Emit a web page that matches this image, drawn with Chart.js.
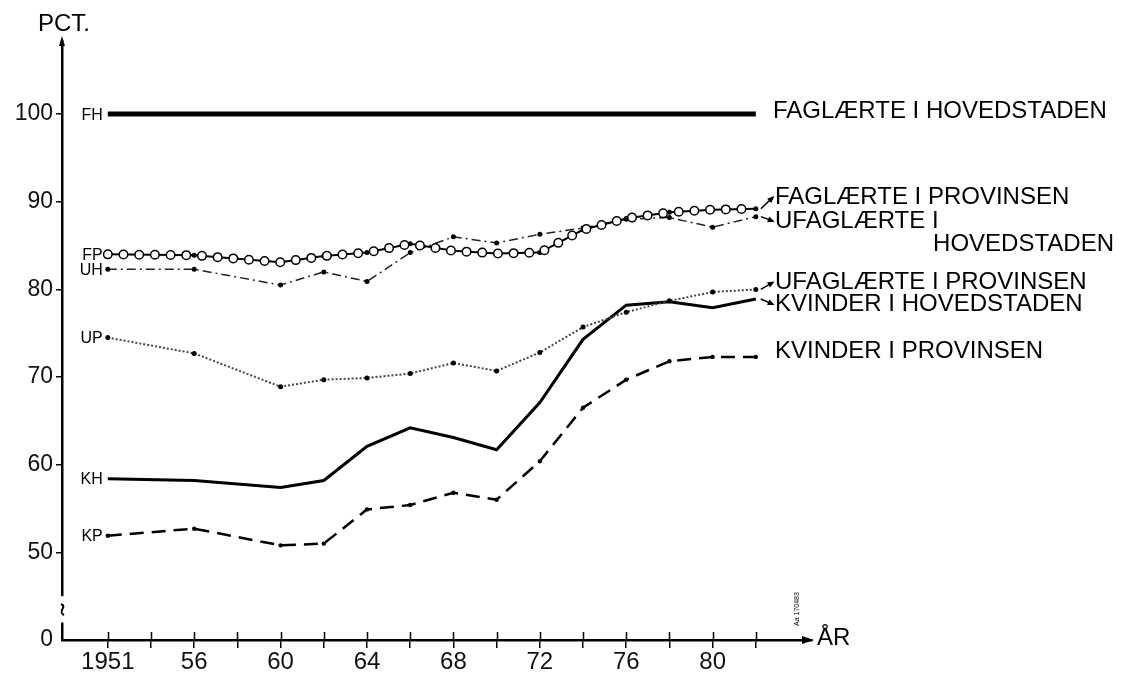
<!DOCTYPE html>
<html>
<head>
<meta charset="utf-8">
<script src="https://cdn.jsdelivr.net/npm/chart.js@4"></script>
<style>
  html,body{margin:0;padding:0;background:#fff;}
  #wrap{width:1126px;height:675px;position:relative;}
</style>
</head>
<body>
<div id="wrap"><canvas id="c"></canvas></div>
<script>
// x slots on the (uneven) year axis: 1951, 56, 60, 62 ... 82
const slots = [0, 2, 4, 5, 6, 7, 8, 9, 10, 11, 12, 13, 14, 15];
const years = ['1951','1956','1960','1962','1964','1966','1968','1970','1972','1974','1976','1978','1980','1982'];
const tickLabels = ['1951','','56','','60','','64','','68','','72','','76','','80',''];
const yTicks = [40, 50, 60, 70, 80, 90, 100];
const yTickLabels = ['0', '50', '60', '70', '80', '90', '100'];

// series (pct. of skilled workers in Copenhagen)
const fh = [100,100,100,100,100,100,100,100,100,100,100,100,100,100];
const fp = [84.0,83.9,83.1,83.8,84.2,85.2,84.4,84.1,84.2,86.8,88.1,88.8,89.1,89.2];
const uh = [82.3,82.3,80.5,82.0,80.9,84.2,86.0,85.3,86.3,87.0,88.0,88.2,87.1,88.3];
const up = [74.5,72.7,68.9,69.7,69.9,70.4,71.6,70.7,72.8,75.7,77.4,78.7,79.7,80.0];
const kh = [58.4,58.2,57.4,58.2,62.1,64.2,63.1,61.7,67.1,74.3,78.2,78.6,77.9,78.9];
const kp = [51.9,52.7,50.8,51.0,54.9,55.4,56.8,56.0,60.4,66.5,69.7,71.8,72.3,72.3];

const shortNames = ['FH','FP','UH','UP','KH','KP'];
const longNames = ['FAGLÆRTE I HOVEDSTADEN','FAGLÆRTE I PROVINSEN','UFAGLÆRTE I|HOVEDSTADEN','UFAGLÆRTE I PROVINSEN','KVINDER I HOVEDSTADEN','KVINDER I PROVINSEN'];

const pts = arr => arr.map((v, i) => ({x: slots[i], y: v}));
const FONT = '"Liberation Sans", Arial, Helvetica, sans-serif';

const deco = {
  id: 'deco',
  afterDraw(chart) {
    const {ctx, scales: {x, y}, chartArea: ca} = chart;
    ctx.save();
    ctx.strokeStyle = '#000'; ctx.fillStyle = '#000';
    // upper halves of x tick marks
    ctx.lineWidth = 1.5;
    for (let i = 0; i < tickLabels.length; i++) {
      const px = Math.round(x.getPixelForValue(i)) + 0.5;
      ctx.beginPath(); ctx.moveTo(px, ca.bottom); ctx.lineTo(px, ca.bottom - 8); ctx.stroke();
    }
    // y axis arrow
    ctx.lineWidth = 2.5;
    ctx.beginPath(); ctx.moveTo(ca.left, ca.top + 2); ctx.lineTo(ca.left, ca.top - 4); ctx.stroke();
    ctx.beginPath(); ctx.moveTo(ca.left, ca.top - 8); ctx.lineTo(ca.left - 3, ca.top + 2); ctx.lineTo(ca.left + 3, ca.top + 2); ctx.closePath(); ctx.fill();
    // x axis arrow
    ctx.beginPath(); ctx.moveTo(ca.right + 2, ca.bottom); ctx.lineTo(ca.right - 10, ca.bottom - 4); ctx.lineTo(ca.right - 10, ca.bottom + 4); ctx.closePath(); ctx.fill();
    // axis break
    const b1 = y.getPixelForValue(45.0), b2 = y.getPixelForValue(42.0);
    ctx.fillStyle = '#fff'; ctx.fillRect(ca.left - 4, b1, 8, b2 - b1);
    ctx.fillStyle = '#000';
    ctx.lineWidth = 2;
    ctx.beginPath();
    ctx.moveTo(ca.left - 1, b1 + 8);
    ctx.bezierCurveTo(ca.left + 6, b1 + 10, ca.left - 5, b1 + 15, ca.left + 2, b1 + 19);
    ctx.stroke();
    // axis titles
    ctx.font = '24px ' + FONT; ctx.textBaseline = 'middle'; ctx.textAlign = 'left';
    ctx.fillText('PCT.', 38, 24);
    ctx.fillText('ÅR', 817, ca.bottom - 2);
    // left short labels
    ctx.font = '16px ' + FONT; ctx.textAlign = 'right';
    const firsts = [fh[0], fp[0], uh[0], up[0], kh[0], kp[0]];
    const x0 = x.getPixelForValue(slots[0]);
    shortNames.forEach((n, i) => ctx.fillText(n, x0 - 5, y.getPixelForValue(firsts[i]) + 1));
    // right long labels
    ctx.font = '24px ' + FONT; ctx.textAlign = 'left';
    const lx = 775;
    const lab = [[100.3, 773], [90.5, lx], [87.8, lx], [80.8, lx], [78.3, lx], [72.9, lx]];
    longNames.forEach((n, i) => {
      const parts = n.split('|');
      const py = y.getPixelForValue(lab[i][0]);
      ctx.fillText(parts[0], lab[i][1], py);
      if (parts[1]) { ctx.textAlign = 'right'; ctx.fillText(parts[1], 1114, py + 23); ctx.textAlign = 'left'; }
    });
    // leaders
    const xe = x.getPixelForValue(slots[slots.length - 1]);
    const leader = (v0, v1) => {
      const ya = y.getPixelForValue(v0), yb = y.getPixelForValue(v1);
      ctx.lineWidth = 1.5;
      ctx.beginPath(); ctx.moveTo(xe + 5, ya); ctx.lineTo(xe + 17, yb); ctx.stroke();
      const ang = Math.atan2(yb - ya, 12);
      ctx.save(); ctx.translate(xe + 17, yb); ctx.rotate(ang);
      ctx.beginPath(); ctx.moveTo(2, 0); ctx.lineTo(-5, -3); ctx.lineTo(-5, 3); ctx.closePath(); ctx.fill();
      ctx.restore();
    };
    leader(fp[fp.length - 1], 90.5);
    leader(uh[uh.length - 1], 87.8);
    leader(up[up.length - 1], 80.8);
    leader(kh[kh.length - 1], 78.3);
    // archive code
    ctx.save(); ctx.translate(797, 626); ctx.rotate(-Math.PI / 2);
    ctx.font = '7px ' + FONT; ctx.textAlign = 'left'; ctx.fillText('Aa 170483', 0, 0);
    ctx.restore();
    ctx.restore();
  }
};

new Chart(document.getElementById('c'), {
  type: 'line',
  data: {
    datasets: [
      {label: 'FH', data: pts(fh), borderColor: '#000', borderWidth: 5, pointRadius: 0, order: 1},
      // FP: hollow rings along the line (outer black, inner white), then thin line
      {label: 'FP rings-in', data: pts(fp), borderColor: '#fff', borderWidth: 7, borderDash: [0, 15.7], borderCapStyle: 'round', pointRadius: 0, order: 2},
      {label: 'FP rings', data: pts(fp), borderColor: '#000', borderWidth: 10, borderDash: [0, 15.7], borderCapStyle: 'round', pointRadius: 0, order: 3},
      {label: 'FP', data: pts(fp), borderColor: '#000', borderWidth: 2, pointRadius: 2.5, pointBackgroundColor: '#000', pointBorderWidth: 0, order: 4},
      {label: 'UH', data: pts(uh), borderColor: '#222', borderWidth: 1.5, borderDash: [9, 4, 2, 4], pointRadius: 2.5, pointBackgroundColor: '#000', pointBorderWidth: 0, order: 5},
      {label: 'UP', data: pts(up), borderColor: '#444', borderWidth: 2, borderDash: [2, 2], pointRadius: 2.5, pointBackgroundColor: '#000', pointBorderWidth: 0, order: 6},
      {label: 'KH', data: pts(kh), borderColor: '#000', borderWidth: 3, pointRadius: 0, order: 7},
      {label: 'KP', data: pts(kp), borderColor: '#000', borderWidth: 2.5, borderDash: [14, 8], pointRadius: 2.2, pointBackgroundColor: '#000', pointBorderWidth: 0, order: 8}
    ]
  },
  options: {
    responsive: true,
    maintainAspectRatio: false,
    animation: false,
    events: [],
    layout: {padding: {left: 0, right: 314, top: 44, bottom: 0}},
    plugins: {legend: {display: false}, tooltip: {enabled: false}},
    elements: {line: {tension: 0}},
    scales: {
      x: {
        type: 'linear', min: -1.06, max: 16.3,
        afterFit: s => { s.height = 35; },
        afterBuildTicks: s => { s.ticks = tickLabels.map((t, i) => ({value: i})); },
        border: {display: true, color: '#000', width: 2.5},
        grid: {display: true, drawOnChartArea: false, drawTicks: true, tickLength: 8, color: '#000', lineWidth: 1.5},
        ticks: {autoSkip: false, maxRotation: 0, padding: 0, color: '#111', font: {family: FONT, size: 24},
          callback: (v) => tickLabels[v] !== undefined ? tickLabels[v] : ''}
      },
      y: {
        type: 'linear', min: 40, max: 108,
        afterFit: s => { s.width = 62; },
        afterBuildTicks: s => { s.ticks = yTicks.map(v => ({value: v})); },
        border: {display: true, color: '#000', width: 2.5},
        grid: {display: true, drawOnChartArea: false, drawTicks: true, tickLength: 6, lineWidth: 1.5,
          color: c => (c.tick && c.tick.value === 40) ? 'rgba(0,0,0,0)' : '#000'},
        ticks: {padding: 3, color: '#111', font: {family: FONT, size: 23},
          callback: (v) => { const k = yTicks.indexOf(v); return k >= 0 ? yTickLabels[k] : ''; }}
      }
    }
  },
  plugins: [deco]
});
</script>
</body>
</html>
